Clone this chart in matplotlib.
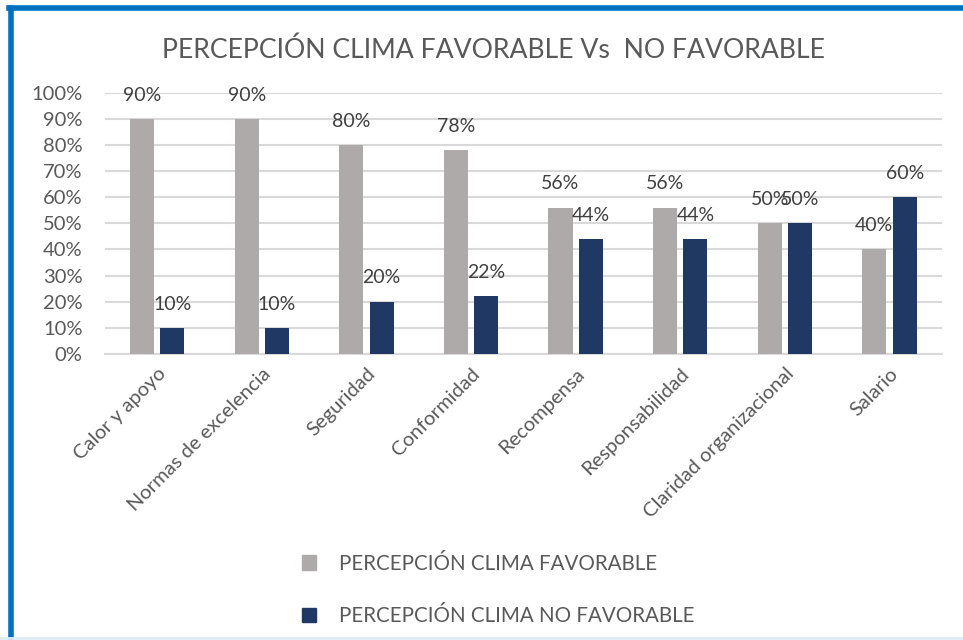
import numpy as np
import matplotlib
matplotlib.use('Agg')
import matplotlib.pyplot as plt
from matplotlib.lines import Line2D
from matplotlib.patches import Patch

plt.rcParams['font.family'] = ['Lato', 'DejaVu Sans']

categorias = ['Calor y apoyo', 'Normas de excelencia', 'Seguridad', 'Conformidad',
              'Recompensa', 'Responsabilidad', 'Claridad organizacional', 'Salario']
favorable = [0.90, 0.90, 0.80, 0.78, 0.56, 0.56, 0.50, 0.40]
no_favorable = [0.10, 0.10, 0.20, 0.22, 0.44, 0.44, 0.50, 0.60]
series = ['PERCEPCIÓN CLIMA FAVORABLE', 'PERCEPCIÓN CLIMA NO FAVORABLE']

gris = '#AEAAAA'
azul = '#1F3864'
texto = '#595959'

fig = plt.figure(figsize=(9.63, 6.4), dpi=100)
ax = fig.add_axes([0.109, 0.447, 0.869, 0.408])

x = np.arange(len(categorias))
w = 0.23
b1 = ax.bar(x - 0.145, favorable, w, color=gris, zorder=3)
b2 = ax.bar(x + 0.145, no_favorable, w, color=azul, zorder=3)

for bars, vals in [(b1, favorable), (b2, no_favorable)]:
    for r, v in zip(bars, vals):
        ax.annotate(f'{round(v * 100)}%', (r.get_x() + r.get_width() / 2, v),
                    xytext=(0, 11), textcoords='offset points', ha='center', va='bottom',
                    fontsize=14, color='#404040')

ax.set_xlim(-0.5, len(categorias) - 0.5)
ax.set_ylim(0, 1)
ax.set_yticks(np.arange(0, 1.01, 0.1))
ax.set_yticklabels([f'{int(round(t * 100))}%' for t in np.arange(0, 1.01, 0.1)])
ax.yaxis.grid(True, color='#D9D9D9', linewidth=1.5, zorder=0)
ax.set_xticks(x)
ax.set_xticklabels(categorias, rotation=45, ha='right', rotation_mode='anchor')
for s in ['top', 'right', 'left']:
    ax.spines[s].set_visible(False)
ax.spines['bottom'].set_color('#D9D9D9')
ax.spines['bottom'].set_linewidth(1.5)
ax.tick_params(axis='both', length=0, labelsize=14.5, colors=texto)
ax.tick_params(axis='x', pad=8)
ax.tick_params(axis='y', pad=16)

fig.text(0.512, 0.922, 'PERCEPCIÓN CLIMA FAVORABLE Vs  NO FAVORABLE', ha='center', va='center',
         fontsize=19.2, color=texto)

handles = [Patch(color=gris), Patch(color=azul)]
fig.legend(handles, series, loc='upper left', bbox_to_anchor=(0.305, 0.148), frameon=False,
           fontsize=14.8, labelcolor=texto, handlelength=0.7, handleheight=0.7,
           labelspacing=1.6, handletextpad=1.1, borderaxespad=0)

# marco azul
fig.add_artist(Line2D([0.0115, 0.0115], [0, 0.9875], transform=fig.transFigure, color='#0070C0', linewidth=4))
fig.add_artist(Line2D([0.0095, 1.0], [0.9875, 0.9875], transform=fig.transFigure, color='#0070C0', linewidth=4))
fig.add_artist(Line2D([0.0, 1.0], [0.003, 0.003], transform=fig.transFigure, color='#DEEBF7', linewidth=2))

fig.savefig('out.png', dpi=100)
